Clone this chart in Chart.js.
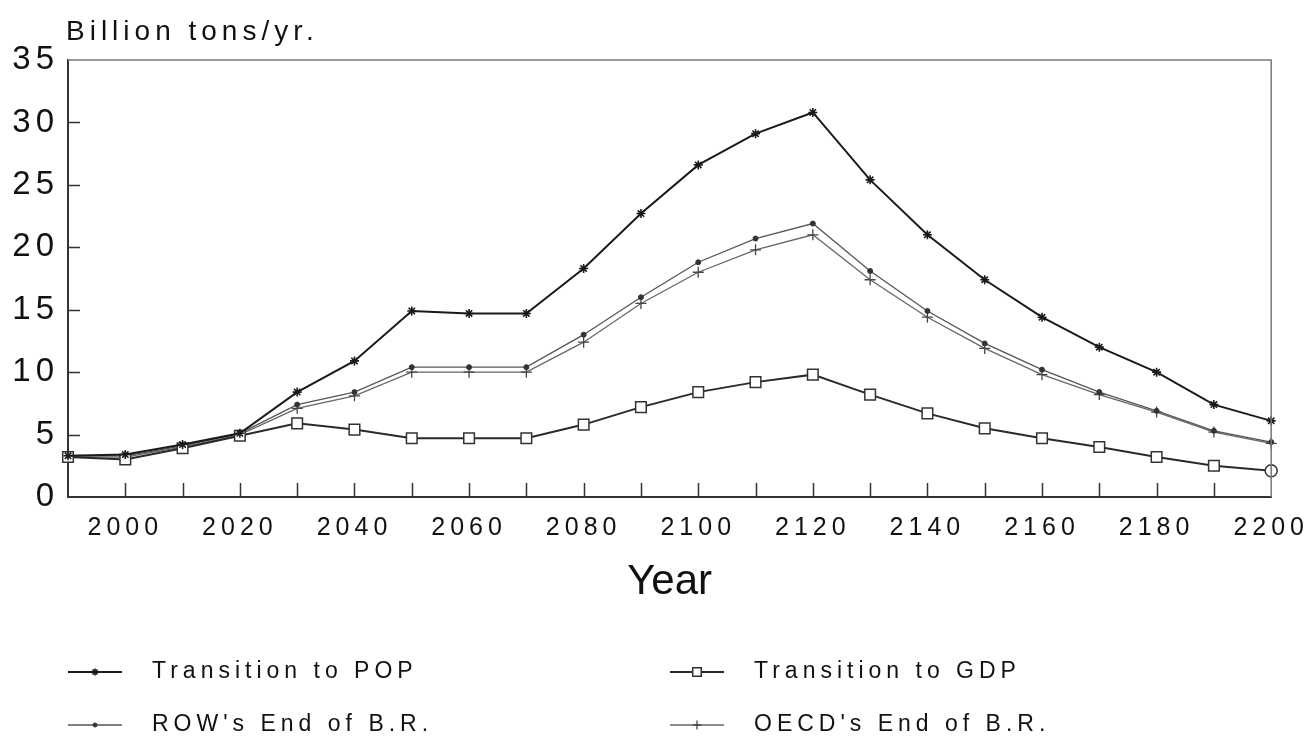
<!DOCTYPE html>
<html>
<head>
<meta charset="utf-8">
<script src="https://cdn.jsdelivr.net/npm/chart.js@4.4.0/dist/chart.umd.min.js"></script>
<style>
    html, body { margin: 0; padding: 0; background: #fff; }
    #wrap { width: 1315px; height: 740px; }
</style>
</head>
<body>
<div id="wrap"><canvas id="emissionChart" width="1315" height="740"></canvas></div>
<script>
"use strict";

var years = [1990, 2000, 2010, 2020, 2030, 2040, 2050, 2060, 2070, 2080, 2090,
    2100, 2110, 2120, 2130, 2140, 2150, 2160, 2170, 2180, 2190, 2200];

var popValues = [3.3, 3.4, 4.2, 5.1, 8.4, 10.9, 14.9, 14.7, 14.7, 18.3, 22.7,
    26.6, 29.1, 30.8, 25.4, 21.0, 17.4, 14.4, 12.0, 10.0, 7.4, 6.1];
var gdpValues = [3.2, 3.0, 3.9, 4.9, 5.9, 5.4, 4.7, 4.7, 4.7, 5.8, 7.2,
    8.4, 9.2, 9.8, 8.2, 6.7, 5.5, 4.7, 4.0, 3.2, 2.5, 2.1];
var rowValues = [3.3, 3.3, 4.1, 5.1, 7.4, 8.4, 10.4, 10.4, 10.4, 13.0, 16.0,
    18.8, 20.7, 21.9, 18.1, 14.9, 12.3, 10.2, 8.4, 6.9, 5.3, 4.4];
var oecdValues = [3.2, 3.2, 4.0, 5.0, 7.1, 8.1, 10.0, 10.0, 10.0, 12.4, 15.5,
    18.0, 19.8, 21.0, 17.4, 14.4, 11.9, 9.8, 8.2, 6.8, 5.2, 4.3];

var seriesLabels = ["Transition to POP", "Transition to GDP", "ROW's End of B.R.", "OECD's End of B.R."];
var xTickLabels = [2000, 2020, 2040, 2060, 2080, 2100, 2120, 2140, 2160, 2180, 2200];
var yAxisTitle = "Billion tons/yr.";
var xAxisTitle = "Year";

var fontFamily = '"Liberation Sans", Arial, sans-serif';
var textColor = '#111';

function toPoints(values) {
    return values.map(function (v, i) {
        return {x: years[i], y: v};
    });
}

function firstOf(opt) {
    return Array.isArray(opt) ? opt[0] : opt;
}

// legend slots: [x of sample line start, y]
var legendSlots = [[68, 672], [670, 672], [68, 725], [670, 725]];

var extrasPlugin = {
    id: 'extras',
    beforeDraw: function (chart) {
        chart.ctx.letterSpacing = '0px';
    },
    afterDatasetsDraw: function (chart) {
        // tick labels are drawn after datasets (ticks.z = 1), spaced out like the original
        chart.ctx.letterSpacing = '5px';
    },
    afterDraw: function (chart) {
        var ctx = chart.ctx;
        var area = chart.chartArea;
        var xScale = chart.scales.x;
        var yScale = chart.scales.y;

        ctx.save();
        ctx.letterSpacing = '0px';

        //frame top and right
        ctx.strokeStyle = '#777';
        ctx.lineWidth = 1.5;
        ctx.beginPath();
        ctx.moveTo(area.left, area.top);
        ctx.lineTo(area.right, area.top);
        ctx.lineTo(area.right, area.bottom);
        ctx.stroke();

        //inward tick marks
        ctx.strokeStyle = '#333';
        ctx.lineWidth = 1.5;
        ctx.beginPath();
        xScale.ticks.forEach(function (t) {
            if (t.value <= xScale.min || t.value >= xScale.max) {
                return;
            }
            var px = Math.round(xScale.getPixelForValue(t.value)) + 0.5;
            ctx.moveTo(px, area.bottom);
            ctx.lineTo(px, area.bottom - 14);
        });
        yScale.ticks.forEach(function (t) {
            if (t.value <= yScale.min || t.value >= yScale.max) {
                return;
            }
            var py = Math.round(yScale.getPixelForValue(t.value)) + 0.5;
            ctx.moveTo(area.left, py);
            ctx.lineTo(area.left + 12, py);
        });
        ctx.stroke();

        //y axis title above the axis
        ctx.letterSpacing = '5px';
        ctx.fillStyle = textColor;
        ctx.font = '28px ' + fontFamily;
        ctx.textAlign = 'left';
        ctx.textBaseline = 'alphabetic';
        ctx.fillText(yAxisTitle, 66, 40);

        //legend
        chart.data.datasets.forEach(function (ds, i) {
            var slot = legendSlots[i];
            var x0 = slot[0], y = slot[1];
            ctx.strokeStyle = ds.borderColor;
            ctx.lineWidth = ds.borderWidth;
            ctx.beginPath();
            ctx.moveTo(x0, y);
            ctx.lineTo(x0 + 54, y);
            ctx.stroke();

            ctx.fillStyle = ds.pointBackgroundColor;
            ctx.strokeStyle = ds.pointBorderColor;
            ctx.lineWidth = ds.pointBorderWidth;
            Chart.helpers.drawPoint(ctx, {
                pointStyle: firstOf(ds.pointStyle),
                radius: firstOf(ds.pointRadius) * 0.8,
                borderWidth: ds.pointBorderWidth,
                rotation: 0
            }, x0 + 27, y);

            ctx.fillStyle = textColor;
            ctx.font = '23px ' + fontFamily;
            ctx.textBaseline = 'middle';
            ctx.fillText(ds.label, x0 + 84, y);
        });

        ctx.restore();
        ctx.letterSpacing = '0px';
    }
};

var lastIndex = years.length - 1;

var chartCtx = document.getElementById("emissionChart");
var emissionChart = new Chart(chartCtx, {
    type: 'line',
    data: {
        datasets: [{
            label: seriesLabels[0],
            data: toPoints(popValues),
            borderColor: '#1a1a1a',
            borderWidth: 2,
            pointStyle: 'star',
            pointRadius: 4.5,
            pointBorderWidth: 1.6,
            pointBackgroundColor: '#1a1a1a',
            pointBorderColor: '#1a1a1a'
        }, {
            label: seriesLabels[1],
            data: toPoints(gdpValues),
            borderColor: '#2a2a2a',
            borderWidth: 2,
            // the last marker of this series is a circle in the original
            pointStyle: years.map(function (y, i) { return i === lastIndex ? 'circle' : 'rect'; }),
            pointRadius: years.map(function (y, i) { return i === lastIndex ? 6 : 7.5; }),
            pointBorderWidth: 1.5,
            pointBackgroundColor: '#fff',
            pointBorderColor: '#333'
        }, {
            label: seriesLabels[2],
            data: toPoints(rowValues),
            borderColor: '#555',
            borderWidth: 1.3,
            pointStyle: 'circle',
            pointRadius: 2.5,
            pointBorderWidth: 1,
            pointBackgroundColor: '#333',
            pointBorderColor: '#333'
        }, {
            label: seriesLabels[3],
            data: toPoints(oecdValues),
            borderColor: '#666',
            borderWidth: 1.3,
            pointStyle: 'cross',
            pointRadius: 5.5,
            pointBorderWidth: 1.3,
            pointBackgroundColor: '#444',
            pointBorderColor: '#444'
        }]
    },
    options: {
        responsive: false,
        animation: false,
        events: [],
        clip: false,
        layout: {
            padding: {top: 60, right: 42, left: 0, bottom: 130}
        },
        plugins: {
            legend: {display: false},
            tooltip: {enabled: false}
        },
        scales: {
            x: {
                type: 'linear',
                min: 1990,
                max: 2200,
                afterFit: function (scale) {
                    scale.height = 113;
                },
                grid: {display: false, drawTicks: false},
                border: {display: true, color: '#333', width: 2},
                ticks: {
                    stepSize: 10,
                    autoSkip: false,
                    maxRotation: 0,
                    minRotation: 0,
                    padding: 16,
                    z: 1,
                    color: textColor,
                    font: {family: fontFamily, size: 25},
                    callback: function (value) {
                        return xTickLabels.indexOf(value) >= 0 ? String(value) : '';
                    }
                },
                title: {
                    display: true,
                    text: xAxisTitle,
                    color: textColor,
                    font: {family: fontFamily, size: 42},
                    padding: {top: 0, bottom: 2}
                }
            },
            y: {
                min: 0,
                max: 35,
                afterFit: function (scale) {
                    scale.width = 68;
                },
                grid: {display: false, drawTicks: false},
                border: {display: true, color: '#333', width: 2},
                ticks: {
                    stepSize: 5,
                    padding: 9,
                    z: 1,
                    color: textColor,
                    font: {family: fontFamily, size: 33}
                }
            }
        }
    },
    plugins: [extrasPlugin]
});
</script>
</body>
</html>
